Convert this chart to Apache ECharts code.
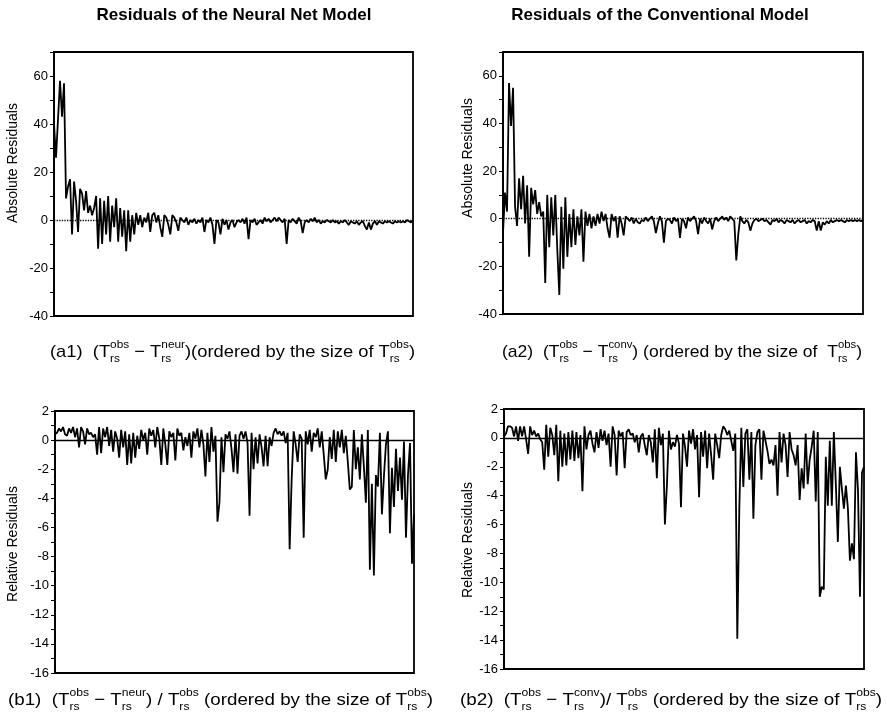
<!DOCTYPE html>
<html>
<head>
<meta charset="utf-8">
<title>Residuals of the Neural Net and Conventional Models</title>
<script src="https://cdn.jsdelivr.net/npm/echarts@6/dist/echarts.min.js"></script>
<style>
  html, body { margin: 0; padding: 0; background: #fff; }
  #chart { width: 887px; height: 720px; }
</style>
</head>
<body>
<div id="chart"></div>
<script>
// residuals, ordered by the size of T_obs
const absNeur = [
  40, 26, 42, 58, 43, 57, 9, 14, 17, -6,
  16, 8, -5, 13, 11, 4, 12, 3, 6, 2,
  5, 10, -12, 9, -10, 8, -6, 10, -9, 6,
  -3, 9, -9, 5, -7, 4, -13, 4, -9, 2,
  -6, 3, -2, 2, -3, 1, -1, 3, -5, 2,
  3, -1, 2, -3, -7, 2, 1, -2, -6, 2,
  1, -1, -4.5, 1, 0, -1, 1, -2, 0, -1,
  0.5, -1.5, 0, -1, 1, -5, 0, -1, 1, -2,
  -10, 0, -1, -6, 0.5, -2, 0, -4, -1, 0,
  -3, -1, 0, -1, 0.5, -1.5, 1, -8, 0, -1,
  0.5, -2, -1, 0, -1.5, 1, -0.5, 0.5, -1, 0,
  1, -0.5, 1, 0, -1, 0.5, -10, 0, -1, 0.5,
  -0.5, -1.5, 1, -0.5, -5.5, -1, 0, -1, 0.5, -0.5,
  1, -1, 0, -1.5, -0.5, -1, 0, -0.5, -1, 0,
  -1, -0.5, -1.5, -0.5, -1, 0, -1, -2, -0.5, -1,
  -1.5, -0.5, -2, -1, -0.5, -2.5, -4, -1, -4, -1.5,
  -0.5, -2, -0.5, -1, -1.5, -0.5, -1, -0.5, -1, -1.5,
  -0.5, -1, -0.5, -1, -0.5, -1, 0, -0.5, -1, 0
]
const absConv = [
  -6, 11, 3, 57, 39, 55, 5, -3, 17, 4,
  18, -2, 14, -16, 13, 6, 12, 2, 7, 1,
  3, -27, 10, -12, 9, -7, 10, -13, -32, 5,
  -21, 9, -16, 2, -12, 4, -11, 1, -7, 4,
  -18, 3, -3, 2, -4, 1, -3, 2, -2, 3,
  -1, 2, -4, -8, 2, -1, 1, -8, 1, -2,
  -7, 1, 0, -1, 0.5, -2, 0, -1.5, -2, -0.5,
  -1, 0.5, -1, 0, 1, -1, -6, -2, 1, -1,
  -10, -1, 0, -0.5, -2, 0.5, -1, 0, -8, 0,
  -1, -4, 0.5, -1, 0, 1, -1, -6.5, 0, -2,
  0.5, -1, -2, 0, -4.5, -1, 0.5, -1, 0, 1,
  -0.5, 0.5, -1, 1, 0, -1, -17.5, -6.5, 1, -1,
  -2, -0.5, -1.5, -5, -2, -0.5, 0, -1, -0.5, 0,
  -1, -0.5, -1.5, -2.5, -0.5, -1, 0, -1.5, -0.5, -1,
  -2, -0.5, -1, -1.5, -0.5, -2, -1, -0.5, -1.5, -1,
  -0.5, -2, -1, -1.5, -0.5, -1, -5, -1, -5, -1.5,
  -2.5, -1, -2, -0.5, -1.5, -1, -0.5, -1, -0.5, -1,
  -1.5, -0.5, -1, -0.5, -1, -0.5, -1, -0.5, -1, -0.5
]
const relNeur = [
  0.4, 0.5, 0.8, 0.6, 0.9, 0.4, 0.3, 0.8, 0.5, 0.9,
  0.2, 0.8, -0.5, 0.9, 0.6, -0.3, 0.8, 0.4, 0.5, 0.2,
  0.4, -1, 0.9, -0.9, 0.8, 0.2, 0.9, -0.4, 0.7, -0.8,
  0.6, 0.1, -1.2, 0.7, -0.5, 0.6, -1.7, 0.4, -1.6, 0.5,
  -1.2, 0.3, -0.6, 0.7, 0, 0.5, -1, 0.8, 0.3, 0.7,
  -0.5, 0.9, 0.1, -1.7, 0.8, -0.3, -1.7, 0.6, 0.2, 0.5,
  -1.4, 0.8, 0.3, 0.5, -0.7, 0.2, -0.4, 0.5, -1.2, 0.6,
  0.1, 0.8, -0.5, 0.7, -0.3, -2.5, 0.5, -1.5, 0.9, -0.8,
  0.3, -5.6, -4.3, 0.2, -2.2, 0.4, 0.1, 0.6, -0.6, -2.2,
  0.4, -2.3, 0.3, 0.6, 0.1, 0.6, -0.2, -5.2, 0.5, -2,
  0.2, -1.6, 0.4, -0.5, -1.8, 0.3, -1.8, 0.2, -0.4, 0.5,
  0.8, 0.4, 0.6, 0.3, 0.6, -0.2, 0.5, -7.5, -2.7, 0.6,
  -0.3, -1.5, 0.4, 0.1, -6.7, 0.6, -0.3, 0.7, -0.8, 0.5,
  0.2, 0.8, -0.5, 0.6, -1, -2.7, -2, 0.2, -1.3, 0.7,
  -1.5, 0.6, -0.5, 0.7, -0.9, 0.3, -1.5, -3.4, -3.2, 0.7,
  -2, -0.5, -2.7, 0.4, -1.8, -4.3, 0.7, -8.9, -3, -9.3,
  -2.4, -3.2, 0.5, -5.1, -2.5, -0.3, 0.6, -6.4, -1.9, -4.6,
  -0.6, -3.5, -1.2, -4.1, -0.1, -6.7, -2.4, -0.2, -8.5, -5.1
]
const relConv = [
  0.1, 0.3, 0.8, 0.8, 0.7, 0.1, 0.8, -0.2, 0.8, 0.1,
  0.8, -0.1, -1.1, 0.8, 0.2, 0.5, 0.1, 0.3, -0.1, -0.3,
  -2.2, 0.9, -1.3, 0.7, 0.2, -1.2, 0.9, -3, 0.5, -2,
  0.3, -1.9, 0.4, -1.5, 0.5, -1.6, 0.4, -1.4, 0.2, -3.7,
  0.8, -0.8, 0.2, 0.5, -0.4, -1, 0.4, -0.7, 0.6, -0.2,
  0.5, -0.5, 0.3, -2, 0.8, 0.2, -2.6, 0.5, 0.1, 0.4,
  -2.1, 0.4, 0.6, 0.2, 0.3, -0.3, 0.2, -1, 0.1, 0.3,
  -0.5, -1.2, 0.2, -0.3, -1.7, 0.6, -2.8, 0.7, -0.5, 0.3,
  -6, -3.3, 0.5, -0.8, -0.3, -0.6, 0.2, -0.4, -4.8, 0.3,
  -0.6, -2, 0.5, -0.4, 0.6, -0.8, 0.2, -4.1, 0.4, -1.3,
  0.5, -2.1, 0.3, -1.2, -2.9, 0.3, -0.5, -1.4, 0.2, 0.8,
  0.6, 0.2, 0.5, -0.2, -0.9, 0.3, -13.9, -4.9, 0.7, -3.4,
  0.3, 0.6, -2.9, 0.4, -5.6, -0.5, 0.4, 0.6, -2.9, 0.5,
  -0.2, -0.9, -1.8, -1.5, -1.9, -0.5, -4, 0.4, -1.7, 0.3,
  -0.5, -2.7, 0.4, -0.8, -1.2, -1.9, -0.5, -4.3, -2.1, -3.5,
  0.3, -3.2, -1.5, -0.6, 0.5, -4.4, 0.4, -11, -10.3, -10.5,
  -1.3, -4.7, -0.2, -4.7, 0.4, -3.2, -7.2, -2, -3.5, -4.9,
  -3.3, -4.9, -8.5, -7.3, -8.4, -1, -3.6, -11, -2.4, -2
]

// tick labels
const absTicks = [-40, -20, 0, 20, 40, 60]
const relTicks = [2, 0, -2, -4, -6, -8, -10, -12, -14, -16]

const titles = ['Residuals of the Neural Net Model', 'Residuals of the Conventional Model']
const axisNames = ['Absolute Residuals', 'Relative Residuals']

const font = '"Liberation Sans", Arial, Helvetica, sans-serif'

// plot boxes: left, top, width, height
const boxes = [
  [54, 52, 359, 264],
  [503, 52, 360, 262],
  [55, 411, 359, 262],
  [504, 409, 360, 260]
]
const panels = [
  { data: absNeur, ticks: absTicks, min: -40, max: 70, step: 10, zero: 'dotted' },
  { data: absConv, ticks: absTicks, min: -40, max: 70, step: 10, zero: 'dotted' },
  { data: relNeur, ticks: relTicks, min: -16, max: 2, step: 1, zero: 'solid' },
  { data: relConv, ticks: relTicks, min: -16, max: 2, step: 1, zero: 'solid' }
]

// --- caption helpers (T with stacked super/subscripts) ---
const ctx = document.createElement('canvas').getContext('2d')
function textWidth(str, size) {
  ctx.font = size + 'px ' + font
  return ctx.measureText(str).width
}

function caption(parts, x0, x1, y) {
  const big = 17
  const small = 11
  const children = []
  let x = 0
  parts.forEach((p) => {
    if (typeof p === 'string') {
      children.push({
        type: 'text', x: x, y: 0,
        style: { text: p, font: big + 'px ' + font, fill: '#000', verticalAlign: 'middle' }
      })
      x += textWidth(p, big)
    } else {
      children.push({
        type: 'text', x: x, y: -7,
        style: { text: p[0], font: small + 'px ' + font, fill: '#000', verticalAlign: 'middle' }
      })
      children.push({
        type: 'text', x: x, y: 7,
        style: { text: p[1], font: small + 'px ' + font, fill: '#000', verticalAlign: 'middle' }
      })
      x += Math.max(textWidth(p[0], small), textWidth(p[1], small))
    }
  })
  return { type: 'group', x: x0, y: y, scaleX: (x1 - x0) / x, children: children }
}

const obs = ['obs', 'rs']
const captions = [
  caption(['(a1)  (T', obs, ' \u2212 T', ['neur', 'rs'], ')(ordered by the size of T', obs, ')'], 50, 415, 352),
  caption(['(a2)  (T', obs, ' \u2212 T', ['conv', 'rs'], ') (ordered by the size of  T', obs, ')'], 502, 862, 352),
  caption(['(b1)  (T', obs, ' \u2212 T', ['neur', 'rs'], ') / T', obs, ' (ordered by the size of T', obs, ')'], 8, 433, 700),
  caption(['(b2)  (T', obs, ' \u2212 T', ['conv', 'rs'], ')/ T', obs, ' (ordered by the size of T', obs, ')'], 460, 882, 700)
]

const chart = echarts.init(document.getElementById('chart'))

chart.setOption({
  animation: false,
  backgroundColor: '#fff',
  grid: boxes.map((b) => ({
    left: b[0], top: b[1], width: b[2], height: b[3],
    show: true, borderColor: '#000', borderWidth: 1.8
  })),
  xAxis: panels.map((p, i) => ({
    type: 'category',
    gridIndex: i,
    data: p.data.map((v, k) => k),
    boundaryGap: false,
    show: false
  })),
  yAxis: panels.map((p, i) => ({
    type: 'value',
    gridIndex: i,
    min: p.min,
    max: p.max,
    interval: p.step,
    splitLine: { show: false },
    axisLine: { show: true, lineStyle: { color: '#000', width: 1.8 } },
    axisTick: { show: true, length: 4, lineStyle: { color: '#000', width: 1 } },
    axisLabel: {
      color: '#000',
      fontSize: 13,
      fontFamily: font,
      margin: 6,
      formatter: (v) => (p.ticks.indexOf(v) >= 0 ? String(v) : '')
    }
  })),
  series: panels.map((p, i) => ({
    type: 'line',
    xAxisIndex: i,
    yAxisIndex: i,
    data: p.data,
    showSymbol: false,
    lineStyle: { color: '#000', width: 1.8 },
    markLine: {
      silent: true,
      symbol: ['none', 'none'],
      label: { show: false },
      lineStyle: { color: '#000', width: 1.3, type: p.zero },
      data: [{ yAxis: 0 }]
    }
  })),
  graphic: [
    // panel titles
    { type: 'text', x: 234, y: 15, style: { text: titles[0], font: 'bold 17px ' + font, fill: '#000', align: 'center', verticalAlign: 'middle' } },
    { type: 'text', x: 660, y: 15, style: { text: titles[1], font: 'bold 17px ' + font, fill: '#000', align: 'center', verticalAlign: 'middle' } },
    // y axis names
    { type: 'text', x: 13, y: 163, rotation: Math.PI / 2, style: { text: axisNames[0], font: '14px ' + font, fill: '#000', align: 'center', verticalAlign: 'middle' } },
    { type: 'text', x: 468, y: 158, rotation: Math.PI / 2, style: { text: axisNames[0], font: '14px ' + font, fill: '#000', align: 'center', verticalAlign: 'middle' } },
    { type: 'text', x: 13, y: 544, rotation: Math.PI / 2, style: { text: axisNames[1], font: '14px ' + font, fill: '#000', align: 'center', verticalAlign: 'middle' } },
    { type: 'text', x: 468, y: 540, rotation: Math.PI / 2, style: { text: axisNames[1], font: '14px ' + font, fill: '#000', align: 'center', verticalAlign: 'middle' } }
  ].concat(captions)
})
</script>
</body>
</html>
